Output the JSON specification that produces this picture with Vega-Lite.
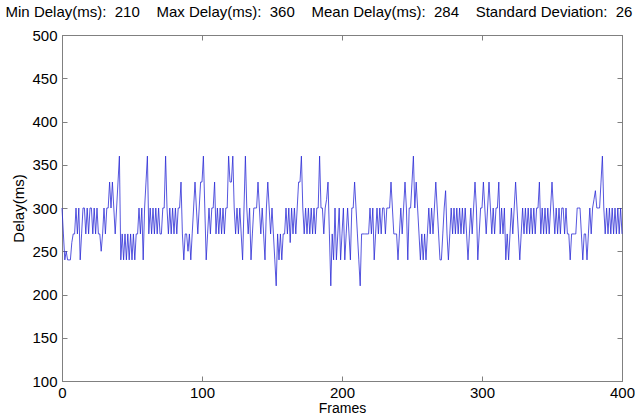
{
  "$schema": "https://vega.github.io/schema/vega-lite/v6.json",
  "width": 560,
  "height": 346,
  "autosize": {"type": "none"},
  "padding": {"left": 62, "top": 35, "right": 13, "bottom": 35},
  "background": "white",
  "title": {
    "text": "Min Delay(ms):\u00a0\u00a0210\u00a0\u00a0\u00a0\u00a0Max Delay(ms):\u00a0\u00a0360\u00a0\u00a0\u00a0\u00a0Mean Delay(ms):\u00a0\u00a0284\u00a0\u00a0\u00a0\u00a0Standard Deviation:\u00a0\u00a026",
    "anchor": "middle",
    "frame": "group",
    "dx": -23,
    "offset": 8,
    "font": "Liberation Sans",
    "fontSize": 15,
    "fontWeight": "normal",
    "color": "#000000"
  },
  "config": {
    "view": {"stroke": "#808080", "strokeWidth": 1},
    "axis": {
      "grid": false,
      "domainColor": "#808080",
      "tickColor": "#808080",
      "labelFont": "Liberation Sans",
      "labelFontSize": 15,
      "labelColor": "#000000",
      "titleFont": "Liberation Sans",
      "titleFontSize": 15,
      "titleFontWeight": "normal",
      "titleColor": "#000000"
    }
  },
  "data": {"values": [
    {"frame":0,"delay":300},{"frame":1,"delay":270},{"frame":2,"delay":240},{"frame":3,"delay":250},{"frame":4,"delay":240},{"frame":5,"delay":240},{"frame":6,"delay":240},{"frame":7,"delay":260},{"frame":8,"delay":270},{"frame":9,"delay":270},
    {"frame":10,"delay":300},{"frame":11,"delay":270},{"frame":12,"delay":300},{"frame":13,"delay":240},{"frame":14,"delay":270},{"frame":15,"delay":300},{"frame":16,"delay":300},{"frame":17,"delay":270},{"frame":18,"delay":300},{"frame":19,"delay":270},
    {"frame":20,"delay":300},{"frame":21,"delay":300},{"frame":22,"delay":270},{"frame":23,"delay":300},{"frame":24,"delay":270},{"frame":25,"delay":300},{"frame":26,"delay":270},{"frame":27,"delay":270},{"frame":28,"delay":250},{"frame":29,"delay":270},
    {"frame":30,"delay":300},{"frame":31,"delay":270},{"frame":32,"delay":300},{"frame":33,"delay":300},{"frame":34,"delay":330},{"frame":35,"delay":300},{"frame":36,"delay":330},{"frame":37,"delay":300},{"frame":38,"delay":270},{"frame":39,"delay":300},
    {"frame":40,"delay":330},{"frame":41,"delay":360},{"frame":42,"delay":240},{"frame":43,"delay":270},{"frame":44,"delay":240},{"frame":45,"delay":270},{"frame":46,"delay":240},{"frame":47,"delay":270},{"frame":48,"delay":240},{"frame":49,"delay":270},
    {"frame":50,"delay":240},{"frame":51,"delay":270},{"frame":52,"delay":240},{"frame":53,"delay":270},{"frame":54,"delay":270},{"frame":55,"delay":300},{"frame":56,"delay":270},{"frame":57,"delay":300},{"frame":58,"delay":240},{"frame":59,"delay":300},
    {"frame":60,"delay":330},{"frame":61,"delay":360},{"frame":62,"delay":270},{"frame":63,"delay":300},{"frame":64,"delay":270},{"frame":65,"delay":300},{"frame":66,"delay":270},{"frame":67,"delay":300},{"frame":68,"delay":270},{"frame":69,"delay":300},
    {"frame":70,"delay":270},{"frame":71,"delay":270},{"frame":72,"delay":300},{"frame":73,"delay":300},{"frame":74,"delay":360},{"frame":75,"delay":300},{"frame":76,"delay":270},{"frame":77,"delay":300},{"frame":78,"delay":270},{"frame":79,"delay":300},
    {"frame":80,"delay":270},{"frame":81,"delay":300},{"frame":82,"delay":270},{"frame":83,"delay":300},{"frame":84,"delay":300},{"frame":85,"delay":330},{"frame":86,"delay":270},{"frame":87,"delay":240},{"frame":88,"delay":270},{"frame":89,"delay":270},
    {"frame":90,"delay":250},{"frame":91,"delay":270},{"frame":92,"delay":240},{"frame":93,"delay":270},{"frame":94,"delay":300},{"frame":95,"delay":330},{"frame":96,"delay":300},{"frame":97,"delay":270},{"frame":98,"delay":300},{"frame":99,"delay":330},
    {"frame":100,"delay":330},{"frame":101,"delay":360},{"frame":102,"delay":300},{"frame":103,"delay":240},{"frame":104,"delay":270},{"frame":105,"delay":300},{"frame":106,"delay":270},{"frame":107,"delay":300},{"frame":108,"delay":300},{"frame":109,"delay":330},
    {"frame":110,"delay":270},{"frame":111,"delay":300},{"frame":112,"delay":270},{"frame":113,"delay":300},{"frame":114,"delay":270},{"frame":115,"delay":300},{"frame":116,"delay":270},{"frame":117,"delay":300},{"frame":118,"delay":300},{"frame":119,"delay":360},
    {"frame":120,"delay":330},{"frame":121,"delay":330},{"frame":122,"delay":360},{"frame":123,"delay":300},{"frame":124,"delay":270},{"frame":125,"delay":300},{"frame":126,"delay":270},{"frame":127,"delay":300},{"frame":128,"delay":270},{"frame":129,"delay":240},
    {"frame":130,"delay":300},{"frame":131,"delay":360},{"frame":132,"delay":300},{"frame":133,"delay":270},{"frame":134,"delay":300},{"frame":135,"delay":240},{"frame":136,"delay":270},{"frame":137,"delay":300},{"frame":138,"delay":300},{"frame":139,"delay":300},
    {"frame":140,"delay":330},{"frame":141,"delay":300},{"frame":142,"delay":270},{"frame":143,"delay":300},{"frame":144,"delay":270},{"frame":145,"delay":240},{"frame":146,"delay":300},{"frame":147,"delay":330},{"frame":148,"delay":300},{"frame":149,"delay":270},
    {"frame":150,"delay":300},{"frame":151,"delay":270},{"frame":152,"delay":240},{"frame":153,"delay":210},{"frame":154,"delay":270},{"frame":155,"delay":240},{"frame":156,"delay":270},{"frame":157,"delay":240},{"frame":158,"delay":270},{"frame":159,"delay":270},
    {"frame":160,"delay":300},{"frame":161,"delay":270},{"frame":162,"delay":300},{"frame":163,"delay":260},{"frame":164,"delay":300},{"frame":165,"delay":270},{"frame":166,"delay":300},{"frame":167,"delay":270},{"frame":168,"delay":300},{"frame":169,"delay":330},
    {"frame":170,"delay":330},{"frame":171,"delay":360},{"frame":172,"delay":300},{"frame":173,"delay":270},{"frame":174,"delay":300},{"frame":175,"delay":270},{"frame":176,"delay":300},{"frame":177,"delay":270},{"frame":178,"delay":300},{"frame":179,"delay":270},
    {"frame":180,"delay":300},{"frame":181,"delay":270},{"frame":182,"delay":300},{"frame":183,"delay":300},{"frame":184,"delay":360},{"frame":185,"delay":300},{"frame":186,"delay":300},{"frame":187,"delay":270},{"frame":188,"delay":300},{"frame":189,"delay":310},
    {"frame":190,"delay":330},{"frame":191,"delay":270},{"frame":192,"delay":210},{"frame":193,"delay":270},{"frame":194,"delay":240},{"frame":195,"delay":300},{"frame":196,"delay":240},{"frame":197,"delay":270},{"frame":198,"delay":300},{"frame":199,"delay":240},
    {"frame":200,"delay":270},{"frame":201,"delay":300},{"frame":202,"delay":240},{"frame":203,"delay":270},{"frame":204,"delay":300},{"frame":205,"delay":270},{"frame":206,"delay":240},{"frame":207,"delay":300},{"frame":208,"delay":300},{"frame":209,"delay":330},
    {"frame":210,"delay":300},{"frame":211,"delay":270},{"frame":212,"delay":240},{"frame":213,"delay":210},{"frame":214,"delay":270},{"frame":215,"delay":270},{"frame":216,"delay":270},{"frame":217,"delay":270},{"frame":218,"delay":270},{"frame":219,"delay":270},
    {"frame":220,"delay":300},{"frame":221,"delay":270},{"frame":222,"delay":300},{"frame":223,"delay":240},{"frame":224,"delay":270},{"frame":225,"delay":300},{"frame":226,"delay":270},{"frame":227,"delay":300},{"frame":228,"delay":270},{"frame":229,"delay":300},
    {"frame":230,"delay":300},{"frame":231,"delay":270},{"frame":232,"delay":300},{"frame":233,"delay":300},{"frame":234,"delay":300},{"frame":235,"delay":330},{"frame":236,"delay":300},{"frame":237,"delay":270},{"frame":238,"delay":270},{"frame":239,"delay":270},
    {"frame":240,"delay":240},{"frame":241,"delay":270},{"frame":242,"delay":300},{"frame":243,"delay":270},{"frame":244,"delay":300},{"frame":245,"delay":330},{"frame":246,"delay":300},{"frame":247,"delay":240},{"frame":248,"delay":300},{"frame":249,"delay":300},
    {"frame":250,"delay":330},{"frame":251,"delay":360},{"frame":252,"delay":300},{"frame":253,"delay":330},{"frame":254,"delay":300},{"frame":255,"delay":270},{"frame":256,"delay":240},{"frame":257,"delay":270},{"frame":258,"delay":240},{"frame":259,"delay":270},
    {"frame":260,"delay":240},{"frame":261,"delay":270},{"frame":262,"delay":300},{"frame":263,"delay":270},{"frame":264,"delay":300},{"frame":265,"delay":270},{"frame":266,"delay":300},{"frame":267,"delay":330},{"frame":268,"delay":300},{"frame":269,"delay":270},
    {"frame":270,"delay":240},{"frame":271,"delay":240},{"frame":272,"delay":270},{"frame":273,"delay":300},{"frame":274,"delay":320},{"frame":275,"delay":270},{"frame":276,"delay":240},{"frame":277,"delay":270},{"frame":278,"delay":300},{"frame":279,"delay":270},
    {"frame":280,"delay":300},{"frame":281,"delay":270},{"frame":282,"delay":300},{"frame":283,"delay":270},{"frame":284,"delay":300},{"frame":285,"delay":270},{"frame":286,"delay":300},{"frame":287,"delay":270},{"frame":288,"delay":300},{"frame":289,"delay":270},
    {"frame":290,"delay":240},{"frame":291,"delay":270},{"frame":292,"delay":300},{"frame":293,"delay":270},{"frame":294,"delay":300},{"frame":295,"delay":330},{"frame":296,"delay":300},{"frame":297,"delay":240},{"frame":298,"delay":270},{"frame":299,"delay":300},
    {"frame":300,"delay":300},{"frame":301,"delay":330},{"frame":302,"delay":300},{"frame":303,"delay":270},{"frame":304,"delay":300},{"frame":305,"delay":330},{"frame":306,"delay":300},{"frame":307,"delay":270},{"frame":308,"delay":300},{"frame":309,"delay":270},
    {"frame":310,"delay":300},{"frame":311,"delay":300},{"frame":312,"delay":330},{"frame":313,"delay":270},{"frame":314,"delay":300},{"frame":315,"delay":270},{"frame":316,"delay":300},{"frame":317,"delay":240},{"frame":318,"delay":270},{"frame":319,"delay":240},
    {"frame":320,"delay":270},{"frame":321,"delay":300},{"frame":322,"delay":270},{"frame":323,"delay":300},{"frame":324,"delay":330},{"frame":325,"delay":300},{"frame":326,"delay":270},{"frame":327,"delay":240},{"frame":328,"delay":270},{"frame":329,"delay":300},
    {"frame":330,"delay":270},{"frame":331,"delay":300},{"frame":332,"delay":270},{"frame":333,"delay":300},{"frame":334,"delay":270},{"frame":335,"delay":300},{"frame":336,"delay":270},{"frame":337,"delay":300},{"frame":338,"delay":270},{"frame":339,"delay":300},
    {"frame":340,"delay":300},{"frame":341,"delay":330},{"frame":342,"delay":270},{"frame":343,"delay":300},{"frame":344,"delay":270},{"frame":345,"delay":300},{"frame":346,"delay":270},{"frame":347,"delay":300},{"frame":348,"delay":270},{"frame":349,"delay":300},
    {"frame":350,"delay":330},{"frame":351,"delay":300},{"frame":352,"delay":270},{"frame":353,"delay":300},{"frame":354,"delay":270},{"frame":355,"delay":300},{"frame":356,"delay":270},{"frame":357,"delay":300},{"frame":358,"delay":300},{"frame":359,"delay":270},
    {"frame":360,"delay":300},{"frame":361,"delay":270},{"frame":362,"delay":270},{"frame":363,"delay":240},{"frame":364,"delay":270},{"frame":365,"delay":270},{"frame":366,"delay":270},{"frame":367,"delay":270},{"frame":368,"delay":300},{"frame":369,"delay":300},
    {"frame":370,"delay":300},{"frame":371,"delay":270},{"frame":372,"delay":240},{"frame":373,"delay":270},{"frame":374,"delay":270},{"frame":375,"delay":240},{"frame":376,"delay":270},{"frame":377,"delay":300},{"frame":378,"delay":270},{"frame":379,"delay":300},
    {"frame":380,"delay":310},{"frame":381,"delay":320},{"frame":382,"delay":300},{"frame":383,"delay":300},{"frame":384,"delay":300},{"frame":385,"delay":330},{"frame":386,"delay":360},{"frame":387,"delay":300},{"frame":388,"delay":270},{"frame":389,"delay":300},
    {"frame":390,"delay":270},{"frame":391,"delay":300},{"frame":392,"delay":270},{"frame":393,"delay":300},{"frame":394,"delay":270},{"frame":395,"delay":300},{"frame":396,"delay":270},{"frame":397,"delay":300},{"frame":398,"delay":270},{"frame":399,"delay":300},
    {"frame":400,"delay":270}
  ]},
  "layer": [
    {
      "mark": {"type": "line", "color": "#2b2bd6", "strokeWidth": 0.8, "interpolate": "linear"},
      "encoding": {
        "x": {
          "field": "frame", "type": "quantitative",
          "scale": {"domain": [0, 400], "nice": false, "zero": false},
          "axis": {"values": [0, 100, 200, 300, 400], "title": "Frames", "titleFontSize": 14, "tickSize": -5, "labelPadding": 9, "titlePadding": 1, "labelFlush": false}
        },
        "y": {
          "field": "delay", "type": "quantitative",
          "scale": {"domain": [100, 500], "nice": false, "zero": false},
          "axis": {"values": [100, 150, 200, 250, 300, 350, 400, 450, 500], "title": "Delay(ms)", "tickSize": -5, "labelPadding": 10, "titlePadding": 5}
        }
      }
    },
    {
      "mark": {"type": "line", "strokeOpacity": 0},
      "encoding": {
        "x": {
          "field": "frame", "type": "quantitative",
          "scale": {"domain": [0, 400], "nice": false, "zero": false},
          "axis": {"orient": "top", "values": [0, 100, 200, 300, 400], "title": null, "labels": false, "tickSize": -5}
        },
        "y": {
          "field": "delay", "type": "quantitative",
          "scale": {"domain": [100, 500], "nice": false, "zero": false},
          "axis": {"orient": "right", "values": [100, 150, 200, 250, 300, 350, 400, 450, 500], "title": null, "labels": false, "tickSize": -5}
        }
      }
    }
  ],
  "resolve": {"axis": {"x": "independent", "y": "independent"}}
}
